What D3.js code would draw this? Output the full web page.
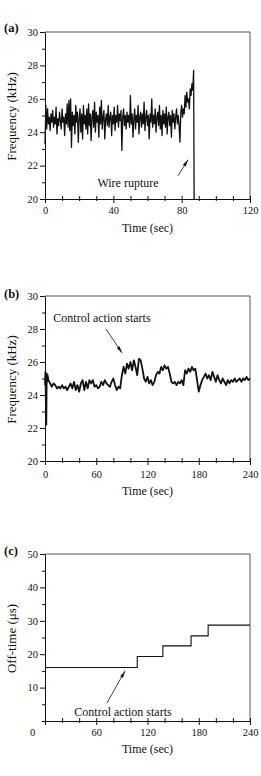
<!DOCTYPE html>
<html><head><meta charset="utf-8">
<script src="https://cdn.jsdelivr.net/npm/d3@7"></script>
<style>html,body{margin:0;padding:0;background:#fff;}svg{display:block;}</style>
</head><body>
<svg id="chart" width="261" height="776"></svg>
<script>
// ---------- Data ----------
// Panel (a): frequency before wire rupture
const timesA = [0,0.5,1,1.5,2,2.5,3,3.5,4,4.5,5,5.5,6,6.5,7,7.5,8,8.5,9,9.5,10,10.5,11,11.5,12,12.5,13,13.5,14,14.5,15,15.5,16,16.5,17,17.5,18,18.5,19,19.5,20,20.5,21,21.5,22,22.5,23,23.5,24,24.5,25,25.5,26,26.5,27,27.5,28,28.5,29,29.5,30,30.5,31,31.5,32,32.5,33,33.5,34,34.5,35,35.5,36,36.5,37,37.5,38,38.5,39,39.5,40,40.5,41,41.5,42,42.5,43,43.5,44,44.5,45,45.5,46,46.5,47,47.5,48,48.5,49,49.5,50,50.5,51,51.5,52,52.5,53,53.5,54,54.5,55,55.5,56,56.5,57,57.5,58,58.5,59,59.5,60,60.5,61,61.5,62,62.5,63,63.5,64,64.5,65,65.5,66,66.5,67,67.5,68,68.5,69,69.5,70,70.5,71,71.5,72,72.5,73,73.5,74,74.5,75,75.5,76,76.5,77,77.5,78,78.5,79,79.5,80,80.5,81,81.5,82,82.5,83,83.5,84,84.5,85,85.5,86,86.5,87,87.3];
const freqA = [23.3,25.6,24.2,25.4,24.5,24.9,24.1,25.1,24.6,25.3,24.3,24.9,24.5,25.5,23.9,24.8,24.4,25.2,24.7,24.2,25.4,24.6,24.9,23.8,25.1,24.5,25.7,24.3,25.9,24.1,26.0,23.1,25.2,24.4,25.0,23.9,25.6,24.6,25.2,23.4,24.8,25.4,24.0,25.1,23.6,25.6,24.5,25.0,24.2,25.4,23.9,25.7,24.4,25.1,23.5,24.9,25.3,24.3,25.8,24.0,25.2,24.6,25.0,23.7,25.5,24.5,25.9,24.2,24.9,25.3,23.6,24.8,25.1,24.4,25.6,24.3,24.9,25.2,23.8,25.0,24.5,25.5,24.1,25.0,24.6,25.6,24.3,25.1,24.7,25.3,22.9,24.9,25.4,24.4,25.0,24.2,25.2,24.6,25.0,24.3,26.2,24.5,25.1,23.7,24.8,25.4,24.2,25.0,24.6,25.6,23.9,24.9,25.2,24.3,25.1,24.5,25.8,24.1,24.9,25.3,24.4,25.0,23.6,25.1,24.6,26.0,24.3,25.0,24.5,25.4,24.0,24.9,25.2,24.4,25.6,24.2,25.0,23.8,25.3,24.5,25.1,24.3,25.5,23.9,24.9,25.2,24.4,25.0,23.7,25.3,24.6,25.1,24.2,24.9,25.4,24.5,25.0,24.4,23.4,25.2,25.6,24.9,25.4,25.1,26.2,25.5,26.4,25.8,26.0,25.4,26.6,26.2,26.9,26.5,27.7,20.0];

// Panel (b): frequency with control
const timesB = [0,0.5,1,1.5,2,2.5,3,4,6,8,10,12,14,16,18,20,22,24,26,28,30,32,34,36,38,40,42,44,46,48,50,52,54,56,58,60,62,64,66,68,70,72,74,76,78,80,82,84,86,88,90,92,94,96,98,100,102,104,106,108,110,112,114,116,118,120,122,124,126,128,130,132,134,136,138,140,142,144,146,148,150,152,154,156,158,160,162,164,166,168,170,172,174,176,178,180,182,184,186,188,190,192,194,196,198,200,202,204,206,208,210,212,214,216,218,220,222,224,226,228,230,232,234,236,238,240];
const freqB = [24.6,25.4,23.6,22.2,25.3,24.8,25.2,24.9,24.7,24.5,24.7,24.6,24.4,24.5,24.4,24.6,24.4,24.5,24.3,24.5,24.7,24.4,24.8,24.3,24.6,24.2,24.7,24.9,24.3,24.8,24.4,24.9,24.7,24.9,24.5,24.6,24.4,24.5,24.8,24.6,24.9,24.7,24.6,24.5,24.8,25.0,24.6,24.3,24.5,24.4,25.2,25.7,25.3,25.9,25.6,26.0,25.5,26.1,25.7,25.2,26.2,26.1,25.6,25.0,24.8,25.1,24.7,24.9,24.6,24.8,25.2,25.4,25.3,25.7,25.5,25.8,25.6,25.7,25.3,24.8,24.7,24.8,24.6,24.8,24.7,24.9,24.6,25.5,25.3,25.6,25.4,25.7,25.5,25.6,24.9,24.2,24.6,24.9,25.1,25.3,25.0,25.2,24.9,25.4,25.1,24.8,25.2,24.9,24.7,25.0,24.8,24.6,24.9,24.7,24.9,24.8,25.0,24.8,24.9,25.0,24.8,25.0,24.9,25.1,24.9,25.0];

// Panel (c): off-time steps
const stepTimesC = [0,108,138,171,191,240];
const offTimeC = [16.0,19.3,22.5,25.5,28.7,28.7];

// Axis ticks
const yMajorA = [20,22,24,26,28,30];
const yMinorA = [21,23,25,27,29];
const xMajorA = [0,40,80,120];
const xMinorA = [10,20,30,50,60,70,90,100,110];
const xMajorBC = [0,60,120,180,240];
const xMinorBC = [20,40,80,100,140,160,200,220];
const yMajorC = [10,20,30,40,50];
const yMinorC = [0,5,15,25,35,45];

// ---------- Drawing ----------
const FONT = "'Liberation Serif','Times New Roman',serif";
const svg = d3.select("#chart");
const INK = "#111";

function panel(cfg) {
  const g = svg.append("g");
  const x = d3.scaleLinear().domain(cfg.xDomain).range([45, 250]);
  const y = d3.scaleLinear().domain(cfg.yDomain).range([cfg.bottom, cfg.top]);

  g.append("line").attr("x1", x.range()[0]).attr("x2", x.range()[1])
    .attr("y1", cfg.top).attr("y2", cfg.top).attr("stroke", "#444").attr("stroke-width", 0.9);
  g.append("line").attr("x1", 250).attr("x2", 250)
    .attr("y1", cfg.top).attr("y2", cfg.bottom).attr("stroke", "#444").attr("stroke-width", 0.9);

  const la = g.append("g").attr("transform", "translate(45,0)")
    .call(d3.axisLeft(y).tickValues(cfg.yMajor).tickSize(5).tickPadding(2).tickSizeOuter(0));
  la.select(".domain").attr("stroke", INK);
  la.selectAll("text").attr("font-family", FONT).attr("font-size", 10.5).attr("fill", INK);
  la.selectAll("line").attr("stroke", INK);
  const lm = g.append("g").attr("transform", "translate(45,0)")
    .call(d3.axisLeft(y).tickValues(cfg.yMinor).tickSize(3).tickFormat("").tickSizeOuter(0));
  lm.select(".domain").remove();
  lm.selectAll("line").attr("stroke", INK);

  const ba = g.append("g").attr("transform", `translate(0,${cfg.bottom})`)
    .call(d3.axisBottom(x).tickValues(cfg.xMajor).tickSize(4).tickPadding(cfg.xPad).tickSizeOuter(0));
  ba.select(".domain").attr("stroke", INK);
  ba.selectAll("text").attr("font-family", FONT).attr("font-size", 10.5).attr("fill", INK);
  ba.selectAll("line").attr("stroke", INK);
  if (cfg.zeroShift) ba.selectAll(".tick").filter(d => d === 0).select("text").attr("dx", cfg.zeroShift);
  const bi = g.append("g").attr("transform", `translate(0,${cfg.bottom})`)
    .call(d3.axisBottom(x).tickValues(cfg.xMajor.concat(cfg.xMinor)).tickSize(-3).tickFormat("").tickSizeOuter(0));
  bi.select(".domain").remove();
  bi.selectAll("line").attr("stroke", INK);
  const bo = g.append("g").attr("transform", `translate(0,${cfg.bottom})`)
    .call(d3.axisBottom(x).tickValues(cfg.xMinor).tickSize(2).tickFormat("").tickSizeOuter(0));
  bo.select(".domain").remove();
  bo.selectAll("line").attr("stroke", INK);

  g.append("text").attr("x", 147.5).attr("y", cfg.bottom + cfg.titleOff)
    .attr("text-anchor", "middle").attr("font-family", FONT).attr("font-size", 12).attr("fill", INK)
    .text("Time (sec)");
  g.append("text").attr("transform", `translate(16,${(cfg.top + cfg.bottom) / 2 + 1}) rotate(-90)`)
    .attr("text-anchor", "middle").attr("font-family", FONT).attr("font-size", 13).attr("fill", INK)
    .text(cfg.yTitle);
  g.append("text").attr("x", 4).attr("y", cfg.top + cfg.labelOff)
    .attr("font-family", FONT).attr("font-size", 12.5).attr("font-weight", "bold").attr("fill", INK)
    .text(cfg.label);
  return { g, x, y };
}

function arrow(p, a) {
  const x1 = p.x(a.t0), y1 = p.y(a.v0), x2 = p.x(a.t1), y2 = p.y(a.v1);
  p.g.append("line").attr("x1", x1).attr("y1", y1).attr("x2", x2).attr("y2", y2)
    .attr("stroke", INK).attr("stroke-width", 0.8);
  const ang = Math.atan2(y2 - y1, x2 - x1);
  const L = 7, W = 1.7;
  const bx = x2 - L * Math.cos(ang), by = y2 - L * Math.sin(ang);
  const px = -Math.sin(ang) * W, py = Math.cos(ang) * W;
  p.g.append("path").attr("d", `M${x2},${y2}L${bx + px},${by + py}L${bx - px},${by - py}Z`).attr("fill", INK);
  p.g.append("text").attr("x", p.x(a.tt)).attr("y", p.y(a.vt)).attr("text-anchor", "middle")
    .attr("font-family", FONT).attr("font-size", 12).attr("fill", INK).text(a.text);
}

// Panel (a)
const pA = panel({ xDomain: [0, 120], yDomain: [20, 30], top: 32, bottom: 199,
  yMajor: yMajorA, yMinor: yMinorA, xMajor: xMajorA, xMinor: xMinorA, xPad: 4, titleOff: 33,
  yTitle: "Frequency (kHz)", label: "(a)", labelOff: 0 });
pA.g.append("path").datum(timesA.map((t, i) => [t, freqA[i]]))
  .attr("fill", "none").attr("stroke", INK).attr("stroke-width", 1.3).attr("stroke-linejoin", "round")
  .attr("d", d3.line().x(d => pA.x(d[0])).y(d => pA.y(d[1])));
arrow(pA, { t0: 77.9, v0: 21.4, t1: 83.7, v1: 22.35, tt: 48.6, vt: 20.7, text: "Wire rupture" });

// Panel (b)
const pB = panel({ xDomain: [0, 240], yDomain: [20, 30], top: 296, bottom: 461,
  yMajor: yMajorA, yMinor: yMinorA, xMajor: xMajorBC, xMinor: xMinorBC, xPad: 6, titleOff: 34,
  yTitle: "Frequency (kHz)", label: "(b)", labelOff: 2 });
pB.g.append("path").datum(timesB.map((t, i) => [t, freqB[i]]))
  .attr("fill", "none").attr("stroke", INK).attr("stroke-width", 1.8).attr("stroke-linejoin", "round")
  .attr("d", d3.line().x(d => pB.x(d[0])).y(d => pB.y(d[1])));
arrow(pB, { t0: 71.4, v0: 28.0, t1: 90.2, v1: 26.55, tt: 66.7, vt: 28.42, text: "Control action starts" });

// Panel (c)
const pC = panel({ xDomain: [0, 240], yDomain: [0, 50], top: 554, bottom: 721,
  yMajor: yMajorC, yMinor: yMinorC, xMajor: xMajorBC, xMinor: xMinorBC, xPad: 4, titleOff: 32,
  yTitle: "Off-time (μs)", label: "(c)", labelOff: 1, zeroShift: -13 });
pC.g.append("path").datum(stepTimesC.map((t, i) => [t, offTimeC[i]]))
  .attr("fill", "none").attr("stroke", INK).attr("stroke-width", 1.1)
  .attr("d", d3.line().curve(d3.curveStepAfter).x(d => pC.x(d[0])).y(d => pC.y(d[1])));
arrow(pC, { t0: 72.6, v0: 5.4, t1: 93.7, v1: 15.0, tt: 91.3, vt: 1.5, text: "Control action starts" });
</script>
</body></html>
